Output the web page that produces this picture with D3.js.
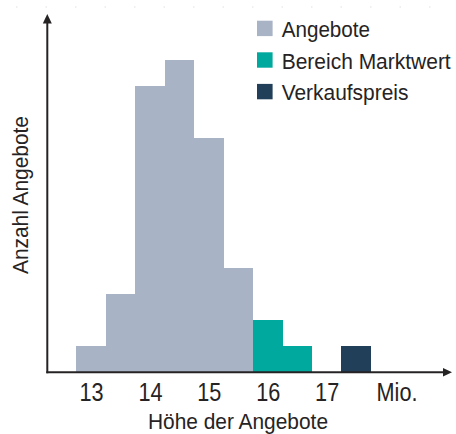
<!DOCTYPE html>
<html>
<head>
<meta charset="utf-8">
<script src="https://cdn.jsdelivr.net/npm/d3@7"></script>
<style>
  html, body { margin: 0; padding: 0; background: #fff; }
  svg { display: block; }
</style>
</head>
<body>
<svg id="chart" width="456" height="434"></svg>
<script>
// ---- data ----
const angeboteCenters = [13, 13.5, 14, 14.5, 15, 15.5];
const angeboteValues  = [1, 3, 11, 12, 9, 4];
const marktwertCenters = [16, 16.5];
const marktwertValues  = [2, 1];
const verkaufCenters = [17.5];
const verkaufValues  = [1];
const tickValues = [13, 14, 15, 16, 17, 18];
const tickLabels = ["13", "14", "15", "16", "17", "Mio."];
const legendLabels = ["Angebote", "Bereich Marktwert", "Verkaufspreis"];
const xTitle = "Höhe der Angebote";
const yTitle = "Anzahl Angebote";

// ---- styles ----
const colors = ["#a8b3c6", "#00a99d", "#223f5a"];
const ink = "#262324";
const binWidth = 0.5;
const font = "'Liberation Sans', Arial, sans-serif";

const svg = d3.select("#chart");

const x = d3.scaleLinear().domain([12.75, 17.75]).range([76.3, 370.8]);
const y = d3.scaleLinear().domain([0, 12]).range([372.3, 60.3]);

const series = [
  { centers: angeboteCenters, values: angeboteValues, color: colors[0] },
  { centers: marktwertCenters, values: marktwertValues, color: colors[1] },
  { centers: verkaufCenters, values: verkaufValues, color: colors[2] }
];

// faint dotted line at top (scan artefact)
svg.append("line")
  .attr("x1", 16).attr("x2", 456).attr("y1", 7).attr("y2", 7)
  .attr("stroke", "#e0e0e0").attr("stroke-width", 1)
  .attr("stroke-dasharray", "1.5 28");

// bars
series.forEach(s => {
  svg.append("g").selectAll("rect")
    .data(s.centers.map((c, i) => ({ c, v: s.values[i] })))
    .join("rect")
    .attr("x", d => x(d.c - binWidth / 2))
    .attr("width", d => x(d.c + binWidth / 2) - x(d.c - binWidth / 2) + 0.3)
    .attr("y", d => y(d.v))
    .attr("height", d => y(0) - y(d.v))
    .attr("fill", s.color)
    .attr("shape-rendering", "crispEdges");
});

// axes lines with arrows
const x0 = 47.3;
const y0 = y(0);
svg.append("line")
  .attr("x1", x0).attr("x2", x0).attr("y1", y0 + 1).attr("y2", 22)
  .attr("stroke", ink).attr("stroke-width", 2);
svg.append("path")
  .attr("d", `M${x0},14 L${x0 - 4.5},23.5 L${x0 + 4.5},23.5 Z`)
  .attr("fill", ink);
svg.append("line")
  .attr("x1", x0 - 1).attr("x2", 445).attr("y1", y0).attr("y2", y0)
  .attr("stroke", ink).attr("stroke-width", 2);
svg.append("path")
  .attr("d", `M452,${y0} L443,${y0 - 4.3} L443,${y0 + 4.3} Z`)
  .attr("fill", ink);

// tick labels via d3 axis (no tick marks / domain)
const xAxisScale = d3.scaleLinear().domain([13, 17]).range([x(13), x(17)]);
const axisG = svg.append("g")
  .attr("transform", `translate(0,${y0})`)
  .call(d3.axisBottom(xAxisScale)
    .tickValues(tickValues)
    .tickSize(0)
    .tickPadding(0)
    .tickFormat((d, i) => tickLabels[i]));
axisG.select(".domain").remove();
axisG.selectAll("text")
  .attr("y", 28.4)
  .attr("dy", 0)
  .attr("dx", (d, i) => i === tickLabels.length - 1 ? 11 : 0)
  .attr("fill", ink)
  .style("font-family", font)
  .style("font-size", "25.5px")
  .each(function () {
    const w = this.getComputedTextLength();
    d3.select(this)
      .attr("textLength", w * 0.85)
      .attr("lengthAdjust", "spacingAndGlyphs");
  });

// axis titles
svg.append("text")
  .attr("x", 238).attr("y", 429)
  .attr("text-anchor", "middle")
  .attr("fill", ink)
  .attr("textLength", 180)
  .attr("lengthAdjust", "spacingAndGlyphs")
  .style("font-family", font)
  .style("font-size", "21.5px")
  .text(xTitle);

svg.append("text")
  .attr("transform", "translate(27.5,195) rotate(-90)")
  .attr("text-anchor", "middle")
  .attr("fill", ink)
  .attr("textLength", 158)
  .attr("lengthAdjust", "spacingAndGlyphs")
  .style("font-family", font)
  .style("font-size", "21.5px")
  .text(yTitle);

// legend
const legendWidths = [88.3, 169, 126.7];
const lg = svg.append("g").attr("transform", "translate(257,20.7)");
legendLabels.forEach((lab, i) => {
  const row = lg.append("g").attr("transform", `translate(0,${i * 31.6})`);
  row.append("rect")
    .attr("width", 15.6).attr("height", 15.4)
    .attr("fill", colors[i]);
  row.append("g")
    .attr("transform", "translate(24.7,16.2) scale(1,1.12)")
    .append("text")
    .attr("x", 0).attr("y", 0)
    .attr("fill", ink)
    .attr("textLength", legendWidths[i])
    .attr("lengthAdjust", "spacingAndGlyphs")
    .style("font-family", font)
    .style("font-size", "20px")
    .text(lab);
});
</script>
</body>
</html>
